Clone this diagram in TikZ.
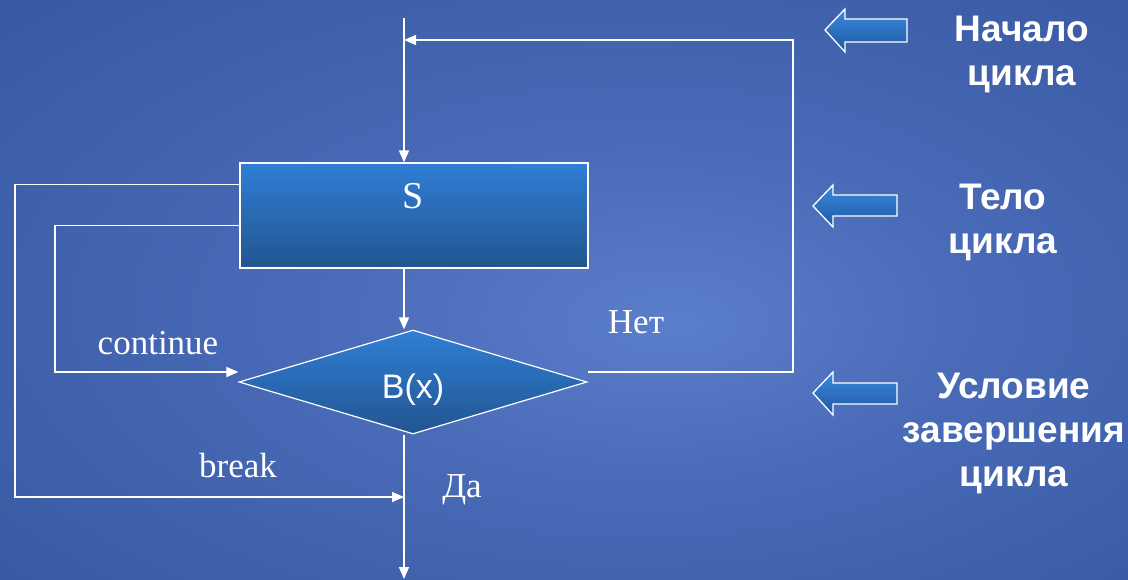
\documentclass[tikz,border=0pt]{standalone}
\usepackage{fontspec}
\setmainfont{Liberation Serif}
\setsansfont{Liberation Sans}
\usetikzlibrary{shapes.geometric,arrows.meta,calc}
\definecolor{bgin}{HTML}{5B7ECB}
\definecolor{bgmid}{HTML}{4A6BB8}
\definecolor{bgout}{HTML}{2C4C92}
\definecolor{boxtop}{HTML}{2F7ED6}
\definecolor{boxbot}{HTML}{22558F}
\definecolor{arrtop}{HTML}{3A88DD}
\definecolor{arrbot}{HTML}{1E5AA2}
\pgfdeclareradialshading{bgshade}{\pgfpoint{5bp}{-3bp}}{color(0bp)=(bgin); color(14bp)=(bgmid); color(52bp)=(bgout)}
\begin{document}
\begin{tikzpicture}[x=1pt,y=-1pt,
  flow/.style={draw=white, line width=1.6pt},
  tip/.style={-{Triangle[length=12pt,width=10pt]}},
  stepbox/.style={draw=white, line width=1.2pt, top color=boxtop, bottom color=boxbot,
    minimum width=348pt, minimum height=105pt, inner sep=0pt},
  dia/.style={diamond, draw=white, line width=1.2pt, top color=boxtop, bottom color=boxbot,
    minimum width=348pt, minimum height=104pt, inner sep=0pt},
  lbl/.style={text=white, font=\fontsize{35}{40}\selectfont, inner sep=0pt},
  side/.style={text=white, align=center, font=\sffamily\bfseries\fontsize{37}{44}\selectfont, inner sep=0pt},
  blockarrow/.style={draw=white, line width=1.3pt, top color=arrtop, bottom color=arrbot}
]
\useasboundingbox (0,0) rectangle (1128,579);
\shade[shading=bgshade] (0,0) rectangle (1128,579);

% main blocks
\node[stepbox] (s) at (414,215.5) {};
\node[lbl, font=\fontsize{38}{40}\selectfont] (stext) at (413,196) {S};
\node[dia] (d) at (413,382) {};
\node[lbl, font=\sffamily\fontsize{34}{38}\selectfont] (dtext) at (413,390) {B(x)};

% coordinates
\coordinate (top) at (404,18);
\coordinate (bot) at (404,579);
\coordinate (rc) at (793,40);
\coordinate (cx) at (55,372);
\coordinate (bx) at (15,497);
\coordinate (dE) at ($(d.east)+(0,-10)$);
\coordinate (dW) at ($(d.west)+(0,-10)$);
\coordinate (sw1) at ($(s.north west)+(0,22)$);
\coordinate (sw2) at ($(s.north west)+(0,63)$);

% connectors
\draw[flow,tip] (top) -- (top |- s.north);
\draw[flow,tip] (top |- s.south) -- (top |- d.north);
\draw[flow,tip] (top |- d.south) -- (bot);
\draw[flow,tip] (dE) -- (dE -| rc) -- (rc) -- (rc -| top);
\draw[flow,tip] (sw2) -- (sw2 -| cx) -- (cx) -- (dW);
\draw[flow,tip] (sw1) -- (sw1 -| bx) -- (bx) -- (bx -| top);

% labels
\node[lbl] (lcont) at (158,343) {continue};
\node[lbl] (lbreak) at (238,466) {break};
\node[lbl] (lyes) at (462,490) {Да};
\node[lbl] (lno) at (636,322) {Нет};

% side block arrows
\shade[blockarrow] (825,30) -- (845,9) -- (845,19) -- (907,19) -- (907,42) -- (845,42) -- (845,52) -- cycle;
\shade[blockarrow] (813,206) -- (833,185) -- (833,195) -- (897,195) -- (897,216) -- (833,216) -- (833,227) -- cycle;
\shade[blockarrow] (813,393) -- (833,372) -- (833,383) -- (897,383) -- (897,404) -- (833,404) -- (833,415) -- cycle;

% side texts
\node[side] (t1) at (1022,54) {Начало\\цикла};
\node[side] (t2) at (1003,222) {Тело\\цикла};
\node[side] (t3) at (1014,433) {Условие\\завершения\\цикла};
\end{tikzpicture}
\end{document}
